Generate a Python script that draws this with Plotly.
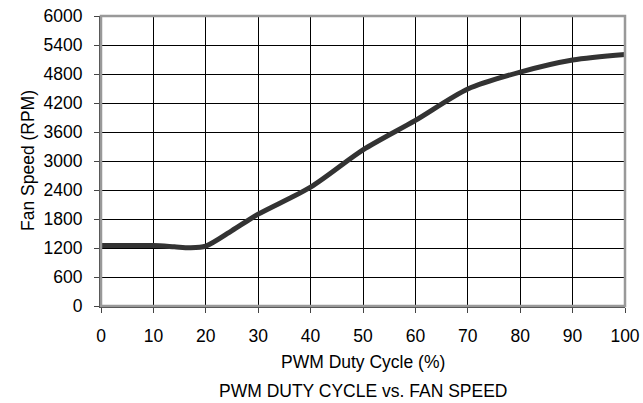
import plotly.graph_objects as go

duty_cycle = [0, 10, 14, 17, 20, 25, 30, 40, 50, 60, 70, 80, 90, 100]
fan_speed = [1250, 1250, 1225, 1205, 1240, 1560, 1900, 2460, 3230, 3840, 4490, 4840, 5090, 5205]

x_ticks = list(range(0, 101, 10))
y_ticks = list(range(0, 6001, 600))

font = "Liberation Sans, Arial, sans-serif"
fs = 17.5

fig = go.Figure()
fig.add_trace(go.Scatter(
    x=duty_cycle, y=fan_speed, mode="lines",
    line=dict(color="#333333", width=5, shape="spline", smoothing=0.8),
    showlegend=False, hoverinfo="skip",
))

axis_common = dict(
    ticks="outside", ticklen=5, tickwidth=1, tickcolor="#444",
    showgrid=True, gridcolor="black", gridwidth=1,
    showline=True, linecolor="#444", linewidth=2, mirror=False,
    zeroline=False, fixedrange=True, tickfont=dict(size=fs),
    automargin=False,
)

fig.update_layout(
    width=643, height=403,
    margin=dict(l=101, r=18, t=16, b=97),
    paper_bgcolor="white", plot_bgcolor="white",
    font=dict(family=font, size=fs, color="black"),
    xaxis=dict(range=[0, 100], tickvals=x_ticks, ticklabelstandoff=8, **axis_common),
    yaxis=dict(range=[0, 6000], tickvals=y_ticks, ticklabelstandoff=8, **axis_common),
    shapes=[dict(type="rect", xref="paper", yref="paper", x0=0, y0=0, x1=1, y1=1,
                 line=dict(color="#999999", width=2.5), layer="above")],
    annotations=[
        dict(text="PWM Duty Cycle (%)", xref="paper", yref="paper",
             x=0.5, y=0, yshift=-56, yanchor="middle", showarrow=False,
             font=dict(size=fs, family=font)),
        dict(text="PWM DUTY CYCLE vs. FAN SPEED", xref="paper", yref="paper",
             x=0.5, y=0, yshift=-85, yanchor="middle", showarrow=False,
             font=dict(size=fs, family=font)),
        dict(text="Fan Speed (RPM)", xref="paper", yref="paper",
             x=0, xshift=-73, y=0.5, xanchor="center", yanchor="middle",
             textangle=-90, showarrow=False, font=dict(size=fs, family=font)),
    ],
)

fig.write_html("out.html", config={"displayModeBar": False, "staticPlot": True},
               post_script="document.body.style.margin='0';document.body.style.overflow='hidden';")
